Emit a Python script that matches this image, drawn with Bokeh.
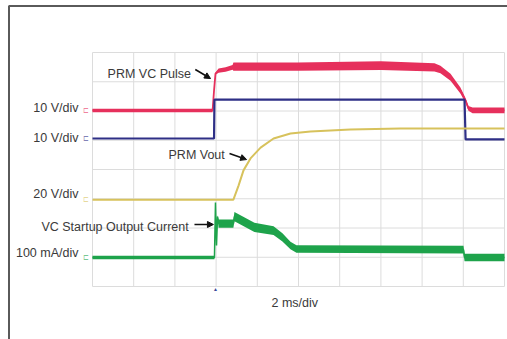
from bokeh.plotting import figure
from bokeh.models import Range1d, Label, Arrow, NormalHead, Grid
from bokeh.embed import file_html
from bokeh.resources import INLINE
import numpy as np

# time in ms (2 ms/div, 10 div), amplitude in scope divisions (8 div)
red_t = [0.0, 5.83, 5.90, 5.97, 6.12, 6.46, 6.80, 6.84, 9.95, 14.0, 16.60, 16.89, 17.38, 17.86, 18.11, 18.25, 18.45, 20.0]
red_v = [6.02, 6.02, 6.70, 7.28, 7.38, 7.42, 7.49, 7.52, 7.52, 7.55, 7.49, 7.42, 7.15, 6.70, 6.36, 6.09, 6.02, 6.02]
red_h = [0.06, 0.06, 0.03, 0.04, 0.07, 0.08, 0.08, 0.14, 0.14, 0.15, 0.14, 0.13, 0.12, 0.1, 0.08, 0.08, 0.1, 0.1]

blue_t = [0.0, 5.90, 5.92, 18.06, 18.11, 20.0]
blue_v = [5.06, 5.06, 6.39, 6.39, 5.03, 5.03]

yel_t = [0.0, 6.84, 7.09, 7.33, 7.67, 8.16, 8.79, 9.61, 10.58, 12.52, 14.95, 20.0]
yel_v = [2.97, 2.97, 3.45, 3.97, 4.38, 4.75, 5.06, 5.23, 5.30, 5.37, 5.40, 5.40]

grn_t = [0.0, 5.92, 5.97, 6.02, 6.07, 6.12, 6.84, 6.89, 7.86, 8.79, 9.22, 9.61, 9.90, 18.01, 18.06, 20.0]
grn_v = [0.99, 0.99, 2.87, 1.40, 2.39, 2.15, 2.15, 2.39, 2.02, 1.91, 1.68, 1.40, 1.28, 1.26, 0.99, 0.99]
grn_h = [0.06, 0.06, 0.02, 0.02, 0.05, 0.14, 0.14, 0.16, 0.16, 0.15, 0.14, 0.13, 0.13, 0.13, 0.13, 0.13]

scale_labels = ["10 V/div", "10 V/div", "20 V/div", "100 mA/div"]
scale_y = [6.09, 5.06, 3.15, 1.13]
x_ticks = [0, 2, 4, 6, 8, 10, 12, 14, 16, 18, 20]
y_ticks = [0, 1, 2, 3, 4, 5, 6, 7, 8]

RED, BLUE, YEL, GRN = "#e6305c", "#2e2f86", "#d7c25c", "#1ea34b"
TXT = "#3a3a3a"
FONT = "Liberation Sans"

W, H = 507, 339
PX_PER_MS, PX_PER_DIV = 20.6, 29.25
LEFT, TOP = 92, 52          # graticule origin inside the canvas (px)
rx0 = -LEFT / PX_PER_MS
rx1 = rx0 + W / PX_PER_MS
ry1 = 8 + TOP / PX_PER_DIV
ry0 = ry1 - H / PX_PER_DIV

p = figure(width=W, height=H, output_backend="svg", toolbar_location=None,
           x_axis_location=None, y_axis_location=None,
           x_range=Range1d(rx0, rx1), y_range=Range1d(ry0, ry1),
           min_border=0, background_fill_color="white", border_fill_color="white")
p.outline_line_color = None
p.renderers = [r for r in p.renderers if not isinstance(r, Grid)]
p.center = [c for c in p.center if not isinstance(c, Grid)]

# scope graticule
p.segment(x0=x_ticks, y0=[0] * len(x_ticks), x1=x_ticks, y1=[8] * len(x_ticks),
          line_color="#dcdcdc", line_width=1)
p.segment(x0=[0] * len(y_ticks), y0=y_ticks, x1=[20] * len(y_ticks), y1=y_ticks,
          line_color="#dcdcdc", line_width=1)

# picture border (left + top)
bx = rx0 + 8.5 / PX_PER_MS
by = ry1 - 5.5 / PX_PER_DIV
p.line([bx, bx, rx1 + 1], [ry0 - 1, by, by], line_color="#5a5a5a", line_width=2)

# traces
rt, rv, rh = np.array(red_t), np.array(red_v), np.array(red_h)
p.varea(x=rt, y1=rv - rh, y2=rv + rh, fill_color=RED)
p.line(rt, rv, line_color=RED, line_width=1.8)

p.line(blue_t, blue_v, line_color=BLUE, line_width=2.2)

p.line(yel_t, yel_v, line_color=YEL, line_width=2)

gt, gv, gh = np.array(grn_t), np.array(grn_v), np.array(grn_h)
p.varea(x=gt, y1=gv - gh, y2=gv + gh, fill_color=GRN)
p.line(gt, gv, line_color=GRN, line_width=1.5)

# scale labels
for lab, yy in zip(scale_labels, scale_y):
    p.add_layout(Label(x=-0.68, y=yy, text=lab, text_align="right", text_baseline="middle",
                       text_font=FONT, text_font_size="12.5px", text_color=TXT))
for yy, c in zip([6.02, 5.06, 2.97, 0.99], [RED, BLUE, YEL, GRN]):
    p.add_layout(Label(x=-0.3, y=yy, text="⊏", text_align="center", text_baseline="middle",
                       text_font=FONT, text_font_size="7px", text_color=c, text_alpha=0.6))

def note(x, y, t):
    p.add_layout(Label(x=x, y=y, text=t, text_align="left", text_baseline="middle",
                       text_font=FONT, text_font_size="12.5px", text_color=TXT))

note(0.73, 7.28, "PRM VC Pulse")
note(3.69, 4.48, "PRM Vout")
note(-2.48, 2.02, "VC Startup Output Current")
note(8.69, -0.55, "2 ms/div")

for (xa, ya, xb, yb) in [(4.99, 7.42, 5.73, 7.11), (6.65, 4.55, 7.48, 4.34), (4.95, 2.12, 5.87, 2.12)]:
    p.add_layout(Arrow(x_start=xa, y_start=ya, x_end=xb, y_end=yb, line_color="#111111", line_width=1.6,
                       end=NormalHead(size=6, fill_color="#111111", line_color="#111111")))

# trigger marker
p.add_layout(Label(x=5.97, y=-0.08, text="▲", text_align="center", text_baseline="middle",
                   text_font=FONT, text_font_size="5px", text_color="#3a4a9a"))

open("out.html", "w").write(file_html(p, INLINE))
